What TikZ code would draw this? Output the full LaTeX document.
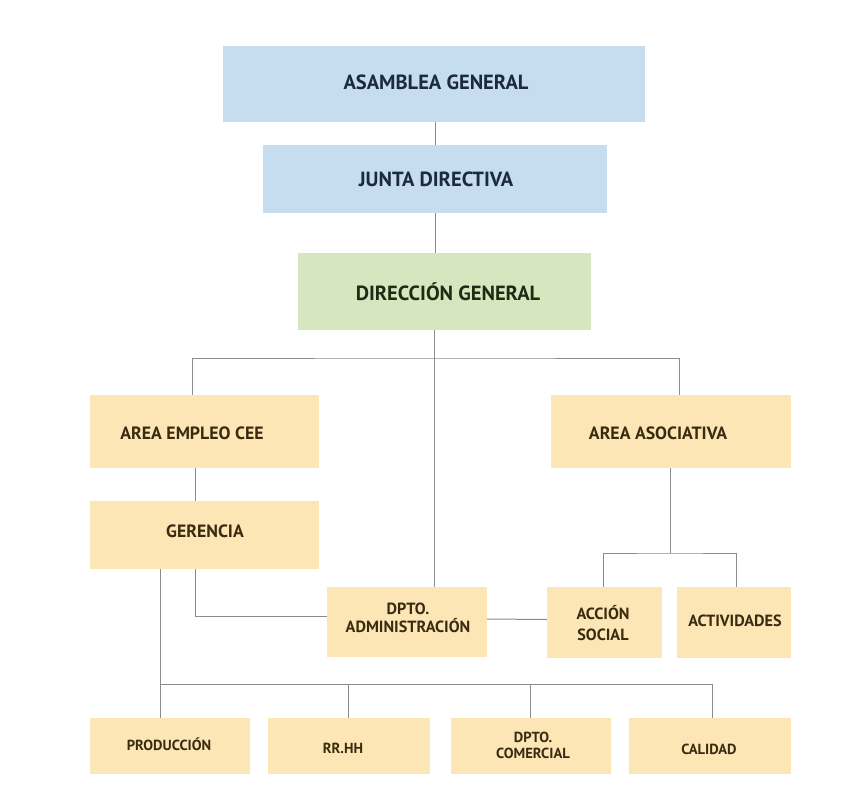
\documentclass[tikz,border=0pt]{standalone}
\usepackage{fontspec}
\setmainfont{PT Sans}
\begin{document}
\begin{tikzpicture}[x=1pt,y=-1pt,
  boxbase/.style={draw=none,inner sep=0pt,align=center,font=\bfseries},
  bluebox/.style={boxbase,fill=blueF,text=blueT},
  greenbox/.style={boxbase,fill=greenF,text=greenT},
  yelbox/.style={boxbase,fill=yelF,text=yelT},
  conn/.style={draw=lineC,line width=1pt},
  big/.style={font=\bfseries\fontsize{20.5}{24}\selectfont},
  mid/.style={font=\bfseries\fontsize{17.8}{21}\selectfont},
  sml/.style={font=\bfseries\fontsize{16.2}{18.5}\selectfont},
  smlb/.style={font=\bfseries\fontsize{16.2}{21}\selectfont},
  tiny/.style={font=\bfseries\fontsize{14.6}{16}\selectfont}]
\definecolor{blueF}{HTML}{C5DDEF}
\definecolor{blueT}{HTML}{1B2A3F}
\definecolor{greenF}{HTML}{D6E6BE}
\definecolor{greenT}{HTML}{1F2B14}
\definecolor{yelF}{HTML}{FCE6B5}
\definecolor{yelT}{HTML}{3A2B10}
\definecolor{lineC}{HTML}{8C8C8C}
\useasboundingbox (0,0) rectangle (841,800);
\fill[white] (0,0) rectangle (841,800);
% boxes
\node[bluebox,minimum width=422pt,minimum height=76pt] (ag) at (434,84) {};
\node[bluebox,big] (ag-t) at (436,82) {ASAMBLEA GENERAL};
\node[bluebox,minimum width=344pt,minimum height=68pt] (jd) at (435,179) {};
\node[bluebox,big] (jd-t) at (436,179) {JUNTA DIRECTIVA};
\node[greenbox,minimum width=293pt,minimum height=77pt] (dg) at (444.5,291.5) {};
\node[greenbox,big] (dg-t) at (448,292) {DIRECCIÓN GENERAL};
\node[yelbox,minimum width=229pt,minimum height=73pt] (aec) at (204.5,431.5) {};
\node[yelbox,mid] (aec-t) at (192,433) {AREA EMPLEO CEE};
\node[yelbox,minimum width=229pt,minimum height=68pt] (ger) at (204.5,535) {};
\node[yelbox,mid] (ger-t) at (205,531) {GERENCIA};
\node[yelbox,minimum width=240pt,minimum height=73pt] (aa) at (671,431.5) {};
\node[yelbox,mid] (aa-t) at (658,433) {AREA ASOCIATIVA};
\node[yelbox,minimum width=160pt,minimum height=70pt] (adm) at (407,622) {};
\node[yelbox,sml] (adm-t) at (408,618) {DPTO.\\ADMINISTRACIÓN};
\node[yelbox,minimum width=115pt,minimum height=71pt] (acs) at (604.5,622.5) {};
\node[yelbox,smlb] (acs-t) at (603,623) {ACCIÓN\\SOCIAL};
\node[yelbox,minimum width=114pt,minimum height=71pt] (act) at (734,622.5) {};
\node[yelbox,sml] (act-t) at (735,621) {ACTIVIDADES};
\node[yelbox,minimum width=160pt,minimum height=56pt] (pro) at (170,746) {};
\node[yelbox,tiny] (pro-t) at (169,744) {PRODUCCIÓN};
\node[yelbox,minimum width=162pt,minimum height=56pt] (rrhh) at (349,746) {};
\node[yelbox,tiny] (rrhh-t) at (343,748) {RR.HH};
\node[yelbox,minimum width=160pt,minimum height=56pt] (com) at (531,746) {};
\node[yelbox,tiny] (com-t) at (533,745) {DPTO.\\COMERCIAL};
\node[yelbox,minimum width=162pt,minimum height=56pt] (cal) at (710,746) {};
\node[yelbox,tiny] (cal-t) at (709,749) {CALIDAD};
% junction points
\coordinate (bus) at (434,358);
\coordinate (ab) at (670,553);
\coordinate (bb) at (160,684);
% connectors
\draw[conn] (jd.north |- ag.south) -- (jd.north);
\draw[conn] (jd.south) -- (jd.south |- dg.north);
\draw[conn] (bus |- dg.south) -- (bus |- adm.north);
\draw[conn] ([xshift=-12.5pt]aec.north) |- (bus) -| ([xshift=8pt]aa.north);
\draw[conn] ([xshift=-9.5pt]aec.south) -- ([xshift=-9.5pt]ger.north);
\draw[conn] ([xshift=-9.5pt]ger.south) |- ([yshift=6pt]adm.west);
\draw[conn] ([yshift=3pt]adm.east) -- ([yshift=3pt]acs.west);
\draw[conn] (ab |- aa.south) -- (ab);
\draw[conn] ([xshift=-1.5pt]acs.north) |- (ab) -| ([xshift=2pt]act.north);
\draw[conn] (bb |- ger.south) -- (bb |- pro.north);
\draw[conn] (bb) -| ([xshift=2pt]cal.north);
\draw[conn] ([xshift=-1pt]rrhh.north) -- ([xshift=-1pt]rrhh.north |- bb);
\draw[conn] ([xshift=-1pt]com.north) -- ([xshift=-1pt]com.north |- bb);
\end{tikzpicture}
\end{document}
